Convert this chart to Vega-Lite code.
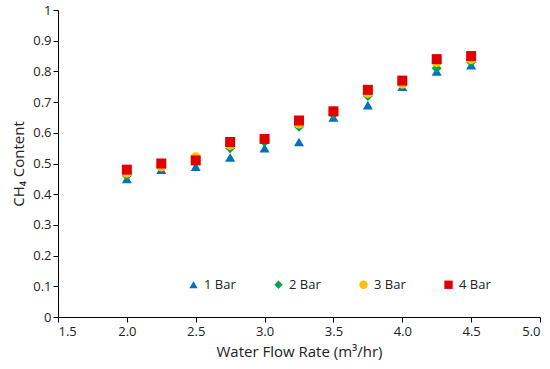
{
  "$schema": "https://vega.github.io/schema/vega-lite/v6.json",
  "width": 482,
  "height": 307,
  "autosize": {"type": "none"},
  "padding": {"left": 58, "top": 10, "right": 10, "bottom": 52},
  "background": "white",
  "config": {
    "view": {"stroke": null},
    "font": "Open Sans",
    "axis": {"grid": false, "domainColor": "#000", "tickColor": "#000", "labelColor": "#222", "titleColor": "#222", "labelFontSize": 13, "titleFontSize": 15, "titleFontWeight": "normal", "labelFont": "Open Sans", "titleFont": "Open Sans", "tickSize": 5}
  },
  "data": {"values": [
    {"x": 2.0, "s": "1 Bar", "y": 0.45}, {"x": 2.0, "s": "2 Bar", "y": 0.46}, {"x": 2.0, "s": "3 Bar", "y": 0.47}, {"x": 2.0, "s": "4 Bar", "y": 0.48},
    {"x": 2.25, "s": "1 Bar", "y": 0.48}, {"x": 2.25, "s": "2 Bar", "y": 0.49}, {"x": 2.25, "s": "3 Bar", "y": 0.49}, {"x": 2.25, "s": "4 Bar", "y": 0.50},
    {"x": 2.5, "s": "1 Bar", "y": 0.49}, {"x": 2.5, "s": "2 Bar", "y": 0.51}, {"x": 2.5, "s": "3 Bar", "y": 0.52}, {"x": 2.5, "s": "4 Bar", "y": 0.51},
    {"x": 2.75, "s": "1 Bar", "y": 0.52}, {"x": 2.75, "s": "2 Bar", "y": 0.55}, {"x": 2.75, "s": "3 Bar", "y": 0.56}, {"x": 2.75, "s": "4 Bar", "y": 0.57},
    {"x": 3.0, "s": "1 Bar", "y": 0.55}, {"x": 3.0, "s": "2 Bar", "y": 0.57}, {"x": 3.0, "s": "3 Bar", "y": 0.58}, {"x": 3.0, "s": "4 Bar", "y": 0.58},
    {"x": 3.25, "s": "1 Bar", "y": 0.57}, {"x": 3.25, "s": "2 Bar", "y": 0.62}, {"x": 3.25, "s": "3 Bar", "y": 0.63}, {"x": 3.25, "s": "4 Bar", "y": 0.64},
    {"x": 3.5, "s": "1 Bar", "y": 0.65}, {"x": 3.5, "s": "2 Bar", "y": 0.66}, {"x": 3.5, "s": "3 Bar", "y": 0.67}, {"x": 3.5, "s": "4 Bar", "y": 0.67},
    {"x": 3.75, "s": "1 Bar", "y": 0.69}, {"x": 3.75, "s": "2 Bar", "y": 0.72}, {"x": 3.75, "s": "3 Bar", "y": 0.73}, {"x": 3.75, "s": "4 Bar", "y": 0.74},
    {"x": 4.0, "s": "1 Bar", "y": 0.75}, {"x": 4.0, "s": "2 Bar", "y": 0.76}, {"x": 4.0, "s": "3 Bar", "y": 0.76}, {"x": 4.0, "s": "4 Bar", "y": 0.77},
    {"x": 4.25, "s": "1 Bar", "y": 0.80}, {"x": 4.25, "s": "2 Bar", "y": 0.81}, {"x": 4.25, "s": "3 Bar", "y": 0.83}, {"x": 4.25, "s": "4 Bar", "y": 0.84},
    {"x": 4.5, "s": "1 Bar", "y": 0.82}, {"x": 4.5, "s": "2 Bar", "y": 0.83}, {"x": 4.5, "s": "3 Bar", "y": 0.84}, {"x": 4.5, "s": "4 Bar", "y": 0.85}
  ]},
  "mark": {"type": "point", "filled": true, "opacity": 1, "size": 100},
  "encoding": {
    "x": {"field": "x", "type": "quantitative", "title": "Water Flow Rate (m³/hr)",
      "scale": {"domain": [1.5, 5.0], "nice": false, "zero": false},
      "axis": {"values": [1.5, 2.0, 2.5, 3.0, 3.5, 4.0, 4.5, 5.0], "format": ".1f", "titlePadding": 6, "labelPadding": 3}},
    "y": {"field": "y", "type": "quantitative", "title": "CH₄ Content",
      "scale": {"domain": [0, 1], "nice": false},
      "axis": {"values": [0, 0.1, 0.2, 0.3, 0.4, 0.5, 0.6, 0.7, 0.8, 0.9, 1], "format": "~g", "titlePadding": 6}},
    "color": {"field": "s", "type": "nominal", "scale": {"domain": ["1 Bar", "2 Bar", "3 Bar", "4 Bar"], "range": ["#0070C0", "#00A650", "#FFC000", "#E00000"]},
      "legend": {"orient": "none", "direction": "horizontal", "columns": 4, "legendX": 129, "legendY": 268, "title": null, "labelFontSize": 13, "labelColor": "#222", "columnPadding": 36, "symbolSize": 70, "labelOffset": 4}},
    "shape": {"field": "s", "type": "nominal", "scale": {"domain": ["1 Bar", "2 Bar", "3 Bar", "4 Bar"], "range": ["triangle-up", "diamond", "circle", "square"]}},
    "order": {"field": "s", "type": "nominal"}
  }
}
